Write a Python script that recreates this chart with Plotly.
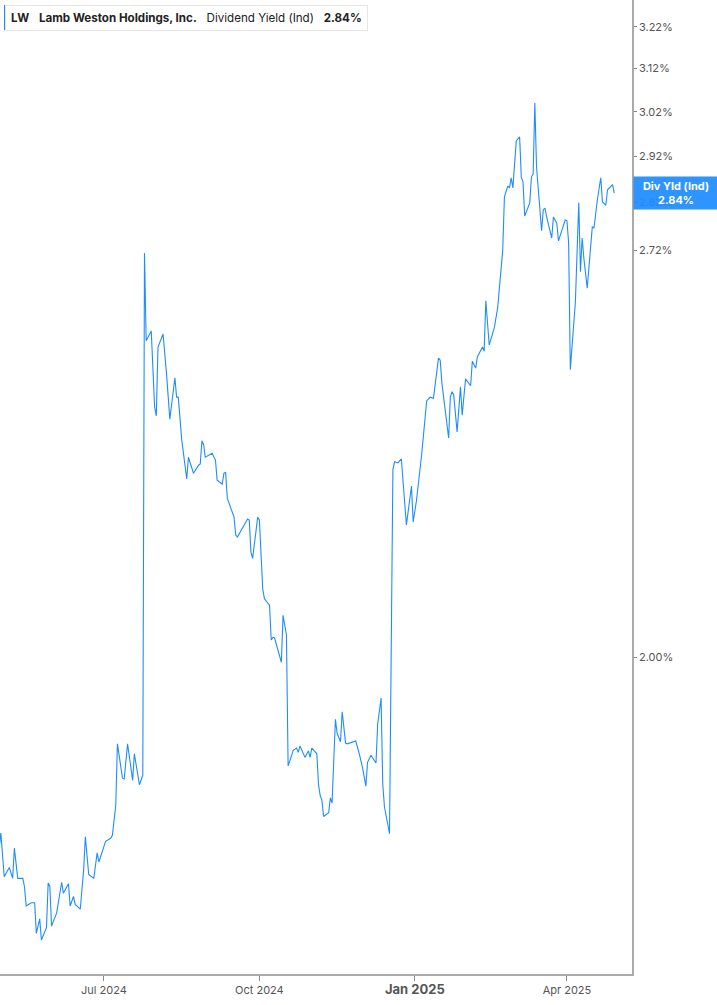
'''
LW dividend yield (indicated) over the last year, drawn with plotly.
Log scaled right hand axis like the original chart.
'''

import numpy as np
import plotly.graph_objects as go

LINE_COLOR = '#1e8cff'

# daily-ish readings of the dividend yield [%]
dates = [
    "2024-04-30", "2024-05-01", "2024-05-03", "2024-05-06", "2024-05-08", "2024-05-09", "2024-05-11", "2024-05-14", "2024-05-15", "2024-05-16",
    "2024-05-19", "2024-05-21", "2024-05-22", "2024-05-24", "2024-05-25", "2024-05-28", "2024-05-29", "2024-05-30", "2024-05-31", "2024-06-03",
    "2024-06-06", "2024-06-07", "2024-06-10", "2024-06-11", "2024-06-13", "2024-06-14", "2024-06-17", "2024-06-19", "2024-06-20", "2024-06-22",
    "2024-06-25", "2024-06-27", "2024-06-28", "2024-07-02", "2024-07-05", "2024-07-06", "2024-07-08", "2024-07-09", "2024-07-12", "2024-07-13",
    "2024-07-15", "2024-07-18", "2024-07-19", "2024-07-22", "2024-07-24", "2024-07-25", "2024-07-26", "2024-07-29", "2024-07-31", "2024-08-01",
    "2024-08-02", "2024-08-05", "2024-08-07", "2024-08-09", "2024-08-12", "2024-08-13", "2024-08-14", "2024-08-16", "2024-08-19", "2024-08-20",
    "2024-08-23", "2024-08-26", "2024-08-27", "2024-08-28", "2024-08-29", "2024-08-30", "2024-09-03", "2024-09-05", "2024-09-06", "2024-09-09",
    "2024-09-10", "2024-09-11", "2024-09-12", "2024-09-16", "2024-09-17", "2024-09-18", "2024-09-24", "2024-09-25", "2024-09-26", "2024-09-27",
    "2024-09-30", "2024-10-01", "2024-10-03", "2024-10-04", "2024-10-07", "2024-10-08", "2024-10-09", "2024-10-10", "2024-10-14", "2024-10-15",
    "2024-10-17", "2024-10-18", "2024-10-20", "2024-10-21", "2024-10-23", "2024-10-24", "2024-10-25", "2024-10-28", "2024-10-30", "2024-10-31",
    "2024-11-01", "2024-11-04", "2024-11-05", "2024-11-06", "2024-11-07", "2024-11-08", "2024-11-11", "2024-11-12", "2024-11-13", "2024-11-15",
    "2024-11-16", "2024-11-18", "2024-11-19", "2024-11-21", "2024-11-22", "2024-11-27", "2024-11-29", "2024-12-01", "2024-12-03", "2024-12-04",
    "2024-12-06", "2024-12-09", "2024-12-10", "2024-12-12", "2024-12-13", "2024-12-14", "2024-12-17", "2024-12-19", "2024-12-20", "2024-12-22",
    "2024-12-24", "2024-12-25", "2024-12-27", "2024-12-30", "2024-12-31", "2025-01-02", "2025-01-05", "2025-01-08", "2025-01-10", "2025-01-12",
    "2025-01-15", "2025-01-16", "2025-01-17", "2025-01-21", "2025-01-22", "2025-01-23", "2025-01-24", "2025-01-26", "2025-01-28", "2025-01-29",
    "2025-01-31", "2025-02-03", "2025-02-04", "2025-02-06", "2025-02-07", "2025-02-10", "2025-02-11", "2025-02-12", "2025-02-14", "2025-02-17",
    "2025-02-19", "2025-02-22", "2025-02-23", "2025-02-25", "2025-02-26", "2025-02-27", "2025-02-28", "2025-03-02", "2025-03-04", "2025-03-05",
    "2025-03-06", "2025-03-07", "2025-03-10", "2025-03-11", "2025-03-12", "2025-03-13", "2025-03-14", "2025-03-17", "2025-03-18", "2025-03-19",
    "2025-03-20", "2025-03-23", "2025-03-24", "2025-03-26", "2025-03-27", "2025-03-31", "2025-04-01", "2025-04-02", "2025-04-03", "2025-04-06",
    "2025-04-08", "2025-04-09", "2025-04-10", "2025-04-11", "2025-04-13", "2025-04-16", "2025-04-17", "2025-04-19", "2025-04-21", "2025-04-22",
    "2025-04-24", "2025-04-25", "2025-04-28", "2025-04-29",
]

div_yield = [
    1.731, 1.751, 1.694, 1.706, 1.692, 1.731, 1.692, 1.692, 1.681, 1.657,
    1.661, 1.661, 1.623, 1.641, 1.615, 1.630, 1.686, 1.682, 1.632, 1.648,
    1.687, 1.673, 1.685, 1.657, 1.669, 1.659, 1.653, 1.703, 1.746, 1.697,
    1.692, 1.725, 1.713, 1.740, 1.744, 1.748, 1.788, 1.873, 1.825, 1.824,
    1.873, 1.822, 1.859, 1.816, 1.829, 2.714, 2.540, 2.559, 2.416, 2.400,
    2.528, 2.553, 2.479, 2.394, 2.470, 2.434, 2.434, 2.358, 2.288, 2.326,
    2.298, 2.312, 2.314, 2.355, 2.348, 2.326, 2.333, 2.321, 2.286, 2.279,
    2.298, 2.300, 2.255, 2.223, 2.193, 2.190, 2.220, 2.218, 2.165, 2.155,
    2.223, 2.218, 2.105, 2.090, 2.080, 2.026, 2.030, 2.029, 1.992, 2.064,
    2.034, 1.842, 1.856, 1.864, 1.867, 1.861, 1.870, 1.854, 1.863, 1.854,
    1.867, 1.859, 1.816, 1.801, 1.795, 1.773, 1.778, 1.798, 1.791, 1.908,
    1.888, 1.876, 1.919, 1.874, 1.873, 1.877, 1.860, 1.840, 1.814, 1.847,
    1.857, 1.846, 1.901, 1.939, 1.817, 1.786, 1.750, 2.304, 2.318, 2.316,
    2.323, 2.286, 2.210, 2.276, 2.215, 2.252, 2.330, 2.427, 2.434, 2.432,
    2.507, 2.503, 2.460, 2.360, 2.434, 2.444, 2.438, 2.371, 2.453, 2.401,
    2.468, 2.455, 2.501, 2.488, 2.509, 2.528, 2.520, 2.618, 2.532, 2.565,
    2.604, 2.720, 2.832, 2.855, 2.851, 2.873, 2.851, 2.954, 2.963, 2.873,
    2.864, 2.791, 2.819, 2.875, 2.881, 3.040, 2.897, 2.760, 2.804, 2.808,
    2.789, 2.745, 2.789, 2.776, 2.739, 2.783, 2.781, 2.735, 2.485, 2.616,
    2.819, 2.676, 2.745, 2.704, 2.643, 2.768, 2.766, 2.825, 2.873, 2.821,
    2.814, 2.847, 2.858, 2.840,
]

# axis ticks
y_ticks = [2.00, 2.72, 2.82, 2.92, 3.02, 3.12, 3.22]
x_ticks = ["2024-07-01", "2024-10-01", "2025-01-01", "2025-04-01"]
x_tick_labels = ["Jul 2024", "Oct 2024",
                 "<span style='font-size:13px'><b>Jan 2025</b></span>", "Apr 2025"]

last_val = div_yield[-1]

fig = go.Figure(go.Scatter(
    x=dates, y=div_yield, mode='lines',
    line=dict(color=LINE_COLOR, width=1.1),
    hoverinfo='skip',
))

fig.update_layout(
    width=717, height=1005,
    margin=dict(l=0, r=85, t=0, b=31),
    paper_bgcolor='white', plot_bgcolor='white',
    font=dict(family='Inter, Roboto, sans-serif', color='#555', size=11),
    showlegend=False,
)

fig.update_xaxes(
    range=["2024-04-30 12:00", "2025-05-09 12:00"],
    tickvals=x_ticks, ticktext=x_tick_labels,
    showgrid=False, zeroline=False,
    showline=True, linecolor='#aaa', linewidth=1.5,
    ticks='outside', ticklen=5, tickcolor='#888',
)

fig.update_yaxes(
    type='log', side='right',
    range=[np.log10(1.574), np.log10(3.286)],
    tickvals=y_ticks, ticktext=[f'{v:.2f}%' for v in y_ticks],
    showgrid=False, zeroline=False,
    showline=True, linecolor='#aaa', linewidth=1.5,
    ticks='outside', ticklen=3, tickcolor='#888',
)

# header box top left
fig.add_annotation(
    xref='paper', yref='paper', x=0, y=1, xanchor='left', yanchor='top',
    xshift=5, yshift=-5,
    text=('<b>LW</b>   <b>Lamb Weston Holdings, Inc.</b>   '
          'Dividend Yield (Ind)   <b>%.2f%%</b>' % last_val),
    font=dict(family='Inter, Roboto, sans-serif', size=11.6, color='#222'),
    bgcolor='white', bordercolor='#e6e6e6', borderwidth=1, borderpad=5,
    showarrow=False,
)
fig.add_shape(
    type='rect', xref='paper', yref='paper',
    xsizemode='pixel', ysizemode='pixel', xanchor=0, yanchor=1,
    x0=4, x1=7, y0=-5, y1=-30,
    fillcolor=LINE_COLOR, line=dict(width=0),
)

# last value tag on the right axis (2.82% tick shows faintly through it)
fig.add_annotation(
    xref='paper', yref='y', x=1, y=np.log10(last_val),
    xanchor='left', yanchor='middle', xshift=1,
    text='<b>Div Yld (Ind)<br>%.2f%%</b>' % last_val,
    font=dict(family='Inter, Roboto, sans-serif', size=11, color='white'),
    bgcolor='rgba(30,140,255,0.93)', borderpad=2, width=80,
    showarrow=False,
)

# page body has a default 8px margin, drop it so the chart fills the window
fig.write_html("out.html", config={'displayModeBar': False},
               post_script="document.body.style.margin='0';")
